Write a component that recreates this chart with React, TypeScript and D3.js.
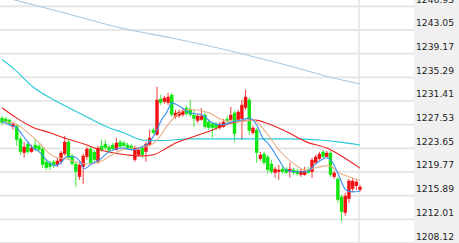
import React from 'react';
import * as d3 from 'd3';

// ---- data ----
const opens = [
  1228.65, 1228.48, 1228.32, 1227.17, 1227.34, 1225.20, 1222.91, 1224.38, 1223.07, 1224.22,
  1224.06, 1223.56, 1221.43, 1221.27, 1221.43, 1220.94, 1221.43, 1222.74, 1224.71, 1222.42,
  1221.10, 1218.97, 1220.61, 1222.25, 1223.56, 1223.07, 1221.43, 1224.06, 1224.38, 1223.89,
  1224.22, 1223.40, 1224.71, 1224.55, 1224.22, 1224.06, 1221.76, 1222.58, 1223.73, 1223.07,
  1224.22, 1226.68, 1225.86, 1231.76, 1231.27, 1231.11, 1232.42, 1228.81, 1228.98, 1229.14,
  1230.29, 1230.12, 1229.14, 1228.16, 1228.32, 1229.14, 1227.99, 1227.66, 1227.66, 1227.01,
  1227.17, 1228.48, 1228.32, 1229.47, 1228.32, 1228.48, 1230.29, 1231.60, 1226.19, 1226.68,
  1221.92, 1222.74, 1222.25, 1221.10, 1219.63, 1219.79, 1220.28, 1220.28, 1219.79, 1220.12,
  1219.96, 1219.30, 1219.30, 1220.12, 1219.79, 1221.27, 1221.92, 1223.07, 1222.25, 1222.91,
  1218.97, 1218.64, 1215.69, 1213.07, 1215.36, 1217.00, 1217.50, 1216.84,
];
const closes = [
  1227.83, 1227.99, 1227.66, 1227.66, 1225.04, 1223.07, 1223.89, 1223.07, 1223.73, 1223.56,
  1223.40, 1220.94, 1220.45, 1220.61, 1220.94, 1221.60, 1222.91, 1224.71, 1222.09, 1221.10,
  1219.79, 1220.94, 1222.42, 1223.56, 1221.27, 1221.76, 1223.73, 1223.40, 1223.73, 1223.24,
  1223.56, 1224.55, 1223.89, 1224.06, 1223.73, 1223.56, 1223.73, 1223.40, 1222.58, 1224.38,
  1225.37, 1226.19, 1231.60, 1231.11, 1231.93, 1232.09, 1229.14, 1229.47, 1229.63, 1229.80,
  1229.30, 1229.14, 1228.48, 1228.98, 1228.98, 1227.17, 1227.01, 1227.01, 1227.01, 1227.66,
  1227.99, 1227.99, 1229.14, 1226.02, 1229.63, 1230.78, 1232.09, 1226.52, 1227.01, 1222.91,
  1222.58, 1221.27, 1220.12, 1219.79, 1220.28, 1220.12, 1219.79, 1219.63, 1220.28, 1219.63,
  1219.46, 1219.96, 1219.96, 1219.63, 1221.76, 1222.25, 1222.74, 1222.25, 1222.91, 1219.30,
  1219.63, 1215.20, 1213.23, 1215.86, 1218.32, 1218.32, 1218.15, 1217.33,
];
const highs = [
  1228.98, 1228.81, 1228.48, 1227.99, 1227.66, 1225.53, 1224.71, 1224.88, 1224.22, 1225.20,
  1224.38, 1223.89, 1221.76, 1221.60, 1221.76, 1222.09, 1223.24, 1225.70, 1225.04, 1222.74,
  1221.43, 1221.27, 1222.74, 1223.89, 1223.89, 1223.40, 1224.06, 1225.04, 1225.04, 1224.22,
  1224.55, 1225.37, 1225.04, 1224.88, 1224.55, 1224.38, 1224.06, 1223.73, 1224.06, 1224.71,
  1226.68, 1227.01, 1233.73, 1232.42, 1232.26, 1232.75, 1232.75, 1229.96, 1229.96, 1230.29,
  1230.62, 1231.60, 1229.96, 1229.30, 1230.29, 1229.47, 1228.32, 1227.99, 1227.99, 1227.99,
  1228.48, 1228.98, 1230.45, 1229.80, 1229.96, 1231.60, 1233.24, 1231.93, 1227.34, 1227.01,
  1223.07, 1223.07, 1222.58, 1221.76, 1220.61, 1220.94, 1220.61, 1220.61, 1221.27, 1220.45,
  1220.28, 1220.28, 1220.61, 1220.61, 1222.09, 1222.58, 1223.07, 1223.40, 1223.24, 1223.24,
  1219.96, 1218.97, 1216.02, 1216.35, 1218.64, 1218.81, 1218.48, 1217.66,
];
const lows = [
  1227.50, 1227.66, 1227.34, 1226.68, 1224.06, 1222.58, 1222.09, 1222.74, 1222.91, 1223.24,
  1223.07, 1220.45, 1220.12, 1220.12, 1220.45, 1220.61, 1221.10, 1222.42, 1221.76, 1220.78,
  1217.33, 1218.48, 1217.82, 1221.76, 1220.94, 1221.43, 1221.10, 1223.07, 1223.40, 1222.91,
  1223.24, 1223.24, 1223.73, 1223.73, 1223.40, 1223.24, 1221.43, 1222.25, 1222.09, 1221.43,
  1224.06, 1226.02, 1225.70, 1230.78, 1230.94, 1230.78, 1228.81, 1228.48, 1228.65, 1228.81,
  1228.98, 1228.81, 1227.17, 1227.83, 1228.16, 1226.84, 1226.68, 1225.37, 1226.68, 1226.68,
  1227.01, 1227.66, 1227.99, 1224.71, 1227.99, 1225.04, 1229.96, 1225.86, 1225.86, 1221.27,
  1221.60, 1220.94, 1219.46, 1219.46, 1218.81, 1218.48, 1219.46, 1219.46, 1218.81, 1219.30,
  1219.14, 1218.97, 1219.14, 1219.46, 1218.81, 1220.94, 1221.60, 1221.76, 1222.09, 1218.97,
  1218.64, 1214.71, 1211.59, 1212.58, 1214.71, 1216.51, 1216.84, 1216.51,
];

const yTicks = [
  1208.12, 1212.01, 1215.89, 1219.77, 1223.65, 1227.53, 1231.41, 1235.29, 1239.17, 1243.05, 1246.93,
];

// moving averages: [candle index, value]
const maLightBlue = [
  [0, 1248.5], [16, 1246.0], [32, 1243.4], [47, 1241.6], [62, 1239.6], [77, 1237.3], [91, 1235.0], [97, 1234.2],
];
const maCyan = [
  [0, 1238.2], [3, 1236.8], [8.4, 1233.7], [14, 1231.6], [22, 1229.1], [29, 1227.0], [33, 1226.2], [38, 1225.0],
  [43, 1224.9], [51, 1225.2], [62, 1225.2], [78, 1225.2], [86, 1225.0], [91, 1224.7], [97, 1224.2],
];
const maRed = [
  [0, 1230.3], [4, 1228.6], [8, 1227.2], [13, 1226.2], [17.5, 1225.2], [22, 1224.4], [26.5, 1223.4], [32, 1222.7],
  [37, 1222.4], [41, 1222.6], [44.6, 1223.7], [47, 1224.5], [51.6, 1225.5], [56, 1226.4], [61.6, 1227.7],
  [64, 1228.0], [68, 1228.3], [71.6, 1227.8], [77, 1226.4], [82.4, 1224.7], [88, 1223.7], [91.4, 1222.6], [97, 1220.4],
];
const maTan = [
  [0, 1228.0], [3, 1227.8], [5, 1227.2], [7.6, 1225.9], [10, 1224.6], [13, 1222.7], [15, 1222.1], [17.5, 1221.9],
  [20, 1221.4], [23, 1221.1], [26.5, 1221.4], [29, 1222.3], [32.7, 1223.4], [35.4, 1223.7], [39, 1223.9],
  [42, 1225.0], [44.6, 1227.2], [47.3, 1229.1], [50.8, 1230.0], [56, 1229.5], [59.7, 1228.3], [63.5, 1228.0],
  [68, 1228.3], [71.6, 1226.2], [75, 1223.4], [78.6, 1221.3], [82.4, 1220.1], [86, 1220.6], [88.6, 1220.8],
  [91.4, 1219.6], [94, 1219.0], [97, 1218.4],
];
const maBlue = [
  [0, 1228.0], [2, 1227.5], [4, 1227.0], [5.7, 1225.7], [8.4, 1223.7], [10, 1223.1], [12, 1221.8], [14.3, 1220.8],
  [15.7, 1221.1], [17.6, 1222.3], [19, 1222.3], [21, 1221.6], [22.4, 1220.3], [24.3, 1221.1], [26.5, 1221.8],
  [29, 1223.1], [32.7, 1223.7], [35.4, 1223.4], [38, 1223.9], [40, 1224.7], [42, 1226.7], [43.2, 1228.3],
  [44.6, 1229.5], [46, 1231.1], [48, 1230.6], [50.8, 1229.5], [54.3, 1229.1], [57, 1227.8], [59.7, 1227.5],
  [62.4, 1228.0], [65, 1228.3], [67, 1228.6], [69, 1227.5], [70.5, 1225.5], [72.4, 1224.2], [75, 1221.8],
  [77, 1220.1], [79.7, 1219.8], [82.4, 1219.8], [85, 1221.1], [88, 1222.1], [89.5, 1221.4], [91.4, 1219.0],
  [93.2, 1216.8], [95, 1216.5], [97, 1216.6],
];

const UP = '#f21010';
const DOWN = '#10e610';

export default function App() {
  const W = 459, H = 243;
  const panelX = 414;
  const n = opens.length;
  const x = d3.scaleLinear().domain([0, n - 1]).range([2, 360]);
  const y = d3.scaleLinear().domain([1208.12, 1246.93]).range([243, 6.3]);
  const line = d3
    .line<number[]>()
    .x((d) => x(d[0]))
    .y((d) => y(d[1]))
    .curve(d3.curveMonotoneX);

  const mas: [number[][], string][] = [
    [maLightBlue, '#a6c9e4'],
    [maCyan, '#27c9d6'],
    [maRed, '#ee2020'],
    [maTan, '#eab086'],
    [maBlue, '#3b92ee'],
  ];

  return (
    <svg
      width={W}
      height={H}
      style={{ position: 'absolute', left: 0, top: 0, background: '#fff' }}
      fontFamily="DejaVu Sans, Verdana, sans-serif"
    >
      <rect x={panelX} y={0} width={W - panelX} height={H} fill="#f0f0f0" />
      {yTicks.map((t) => (
        <line key={'g' + t} x1={0} x2={panelX} y1={y(t)} y2={y(t)} stroke="#e4e4e4" strokeWidth={1.8} />
      ))}
      <line x1={359} x2={359} y1={0} y2={H} stroke="#e6e6e6" strokeWidth={1.6} />
      {opens.map((o, i) => {
        const c = closes[i];
        const up = c >= o;
        const col = up ? UP : DOWN;
        const cx = x(i);
        const top = y(Math.max(o, c));
        const h = Math.max(1.2, Math.abs(y(o) - y(c)));
        return (
          <g key={i}>
            <line x1={cx} x2={cx} y1={y(highs[i])} y2={y(lows[i])} stroke={col} strokeWidth={1} opacity={0.8} />
            <rect x={cx - 1.7} y={top} width={3.4} height={h} fill={col} />
          </g>
        );
      })}
      {mas.map(([d, col], k) => (
        <path key={k} d={line(d as any) || ''} fill="none" stroke={col} strokeWidth={1.1} />
      ))}
      {yTicks.map((t) => (
        <text key={'t' + t} x={416} y={y(t) - 3.5} fontSize={9.2} fill="#222">
          {t.toFixed(2)}
        </text>
      ))}
    </svg>
  );
}
